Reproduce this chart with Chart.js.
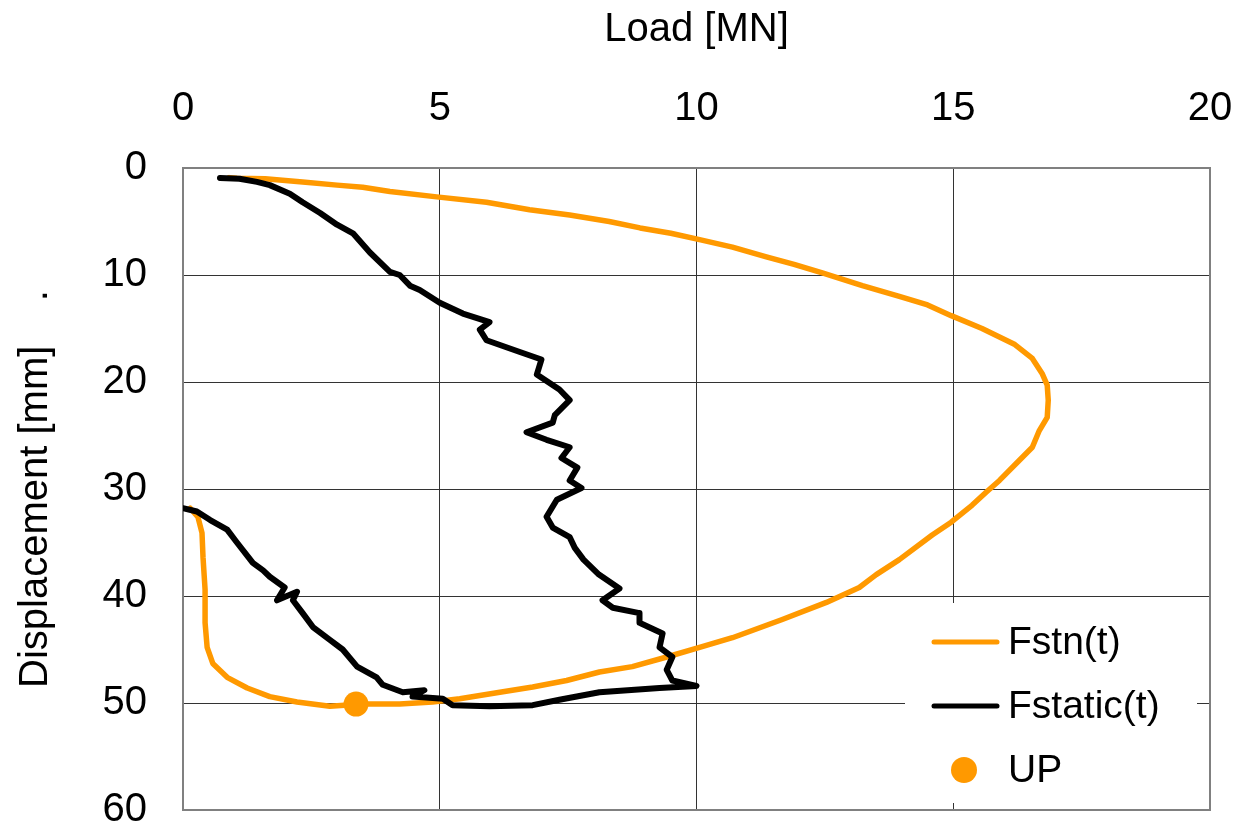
<!DOCTYPE html>
<html>
<head>
<meta charset="utf-8">
<script src="https://cdn.jsdelivr.net/npm/chart.js@4/dist/chart.umd.min.js"></script>
<style>
  html, body { margin: 0; padding: 0; background: #fff; }
  #wrap { position: relative; width: 1236px; height: 829px; }
</style>
</head>
<body>
<div id="wrap"><canvas id="c" width="1236" height="829"></canvas></div>
<script>
// ---- data (Load [MN], Displacement [mm]) ----
const fstnLoad = [0.9,1.05,1.6,2.33,3.0,3.5,4.03,4.94,5.91,6.75,7.53,8.3,8.9,9.5,10.06,10.7,11.36,11.9,12.45,13.23,13.95,14.5,14.96,15.56,16.2,16.54,16.73,16.83,16.85,16.83,16.67,16.54,16.25,15.9,15.64,15.37,14.96,14.59,13.95,13.5,13.17,12.53,11.67,10.7,10.06,9.42,8.75,8.11,7.47,6.81,6.17,5.39,4.86,4.22,3.5,2.86,2.22,1.69,1.25,0.86,0.58,0.47,0.43,0.43,0.39,0.37,0.29,0.14];
const fstnDisp = [0.9,0.95,1.0,1.3,1.6,1.8,2.2,2.7,3.2,3.9,4.4,5.0,5.6,6.1,6.7,7.4,8.3,9.0,9.8,11.0,12.0,12.8,13.8,15.0,16.5,17.8,19.2,20.3,21.7,23.3,24.6,26.1,27.5,29.2,30.3,31.5,33.1,34.3,36.6,38.0,39.2,40.6,42.2,43.9,44.8,45.7,46.6,47.1,47.9,48.5,49.0,49.6,49.9,50.1,50.1,50.3,49.9,49.4,48.6,47.6,46.3,44.8,42.5,39.4,36.4,34.1,32.6,31.8];

const fstaticLoad = [0.72,1.1,1.44,1.69,2.08,2.33,2.67,3.0,3.31,3.64,4.03,4.22,4.42,4.61,5.0,5.45,5.97,5.78,5.91,6.56,6.98,6.89,7.33,7.53,7.24,7.2,6.69,7.08,7.53,7.37,7.68,7.53,7.76,7.28,7.08,7.2,7.53,7.63,7.8,8.1,8.5,8.17,8.37,8.89,8.89,9.34,9.28,9.53,9.42,9.53,10.0,9.28,8.11,7.33,6.81,5.97,5.25,5.06,4.47,4.7,4.28,3.89,3.77,3.39,3.11,2.86,2.53,2.33,2.14,2.22,1.83,1.98,1.69,1.56,1.36,1.05,0.86,0.53,0.27,0.0];
const fstaticDisp = [0.93,1.0,1.3,1.6,2.4,3.2,4.2,5.3,6.1,7.9,9.7,10.0,11.0,11.4,12.6,13.6,14.4,15.1,16.1,17.2,17.9,19.3,20.7,21.7,23.1,23.8,24.7,25.4,26.1,27.1,28.0,29.2,29.9,31.0,32.6,33.6,34.5,35.5,36.6,38.0,39.3,40.4,41.1,41.6,42.5,43.5,44.8,45.7,46.9,47.9,48.4,48.6,49.0,49.7,50.2,50.3,50.2,49.6,49.4,48.8,49.0,48.3,47.6,46.6,45.0,44.1,42.9,41.6,40.4,39.6,40.4,39.2,38.2,37.6,36.9,35.0,33.8,32.9,32.1,31.8];

const upLoad = [3.37];
const upDisp = [50.1];

const xTicks = [0, 5, 10, 15, 20];
const yTicks = [0, 10, 20, 30, 40, 50, 60];
const seriesNames = ['Fstn(t)', 'Fstatic(t)', 'UP'];

const ORANGE = '#FF9900';
const FONT = "'Liberation Sans', Arial, sans-serif";

const toPts = (xs, ys) => xs.map((x, i) => ({ x: x, y: ys[i] }));

const frameLegend = {
  id: 'frameLegend',
  beforeDatasetsDraw(chart) {
    const ctx = chart.ctx;
    const a = chart.chartArea;
    ctx.save();
    ctx.fillStyle = '#fff';
    ctx.fillRect(905, 603, 292, 200);
    ctx.strokeStyle = '#808080';
    ctx.lineWidth = 2;
    ctx.strokeRect(a.left, a.top, a.right - a.left, a.bottom - a.top);
    ctx.font = '39px ' + FONT;
    ctx.textBaseline = 'middle';
    ctx.textAlign = 'left';
    ctx.lineCap = 'round';
    const rows = [642, 706, 770];
    ctx.strokeStyle = ORANGE; ctx.lineWidth = 5;
    ctx.beginPath(); ctx.moveTo(934, rows[0]); ctx.lineTo(997, rows[0]); ctx.stroke();
    ctx.strokeStyle = '#000'; ctx.lineWidth = 5;
    ctx.beginPath(); ctx.moveTo(934, rows[1]); ctx.lineTo(997, rows[1]); ctx.stroke();
    ctx.fillStyle = ORANGE;
    ctx.beginPath(); ctx.arc(964, rows[2], 13, 0, Math.PI * 2); ctx.fill();
    ctx.fillStyle = '#000';
    seriesNames.forEach((n, i) => ctx.fillText(n, 1008, rows[i] + 1));
    ctx.restore();
  }
};

new Chart(document.getElementById('c'), {
  type: 'scatter',
  data: {
    datasets: [
      { label: seriesNames[2], data: toPts(upLoad, upDisp), showLine: false,
        pointRadius: 12.5, pointBackgroundColor: ORANGE, pointBorderWidth: 0, order: 0 },
      { label: seriesNames[1], data: toPts(fstaticLoad, fstaticDisp), showLine: true,
        borderColor: '#000', borderWidth: 6, pointRadius: 0, tension: 0, order: 1,
        borderJoinStyle: 'round', borderCapStyle: 'round' },
      { label: seriesNames[0], data: toPts(fstnLoad, fstnDisp), showLine: true,
        borderColor: ORANGE, borderWidth: 5.5, pointRadius: 0, tension: 0, order: 2,
        borderJoinStyle: 'round', borderCapStyle: 'round' }
    ]
  },
  options: {
    responsive: false,
    animation: false,
    events: [],
    layout: { padding: { left: 0, top: 0, right: 26, bottom: 19 } },
    plugins: { legend: { display: false }, tooltip: { enabled: false } },
    scales: {
      x: {
        type: 'linear', position: 'top', min: 0, max: 20,
        afterBuildTicks: s => { s.ticks = xTicks.map(v => ({ value: v })); },
        afterFit: s => { s.height = 168; s.paddingLeft = 0; s.paddingRight = 0; },
        grid: { color: '#333', lineWidth: 1, drawTicks: false },
        border: { display: false },
        ticks: { color: '#000', font: { size: 40, family: FONT }, padding: 35, maxRotation: 0 },
        title: { display: true, text: 'Load [MN]', color: '#000',
                 font: { size: 40, family: FONT }, padding: { top: 6, bottom: 0 } }
      },
      y: {
        type: 'linear', reverse: true, min: 0, max: 60,
        afterBuildTicks: s => { s.ticks = yTicks.map(v => ({ value: v })); },
        afterFit: s => { s.width = 183; s.paddingTop = 0; s.paddingBottom = 0; },
        grid: { color: '#333', lineWidth: 1, drawTicks: false },
        border: { display: false },
        ticks: { color: '#000', font: { size: 40, family: FONT }, padding: 36 },
        title: { display: true, text: 'Displacement [mm]    .', color: '#000',
                 font: { size: 40, family: FONT }, padding: { top: 12, bottom: 0 } }
      }
    }
  },
  plugins: [frameLegend]
});
</script>
</body>
</html>
